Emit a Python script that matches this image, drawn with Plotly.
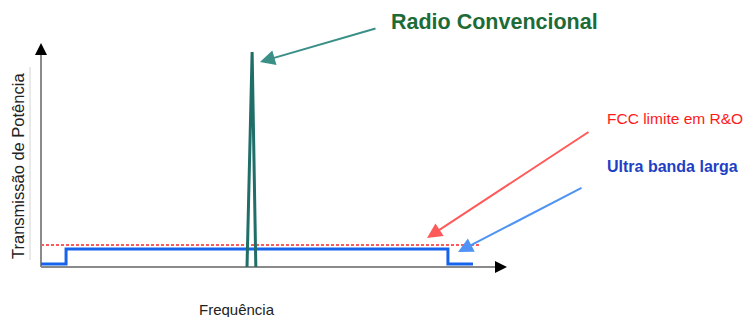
import plotly.graph_objects as go

# ---- data (schematic units: frequency 0..100, power 0..100) ----
uwb_freq = [0, 5.4, 5.4, 87.7, 87.7, 93.1]
uwb_power = [1.3, 1.3, 8.1, 8.1, 1.3, 1.3]
fcc_freq = [0, 94.8]
fcc_power = [9.9, 9.9]
radio_freq = [44.4, 45.5, 46.3]
radio_power = [0, 96.8, 0]

label_radio = "Radio Convencional"
label_fcc = "FCC limite em R&O"
label_uwb = "Ultra banda larga"
x_title = "Frequência"
y_title = "Transmissão de Potência"

# ---- geometry helpers (pixel <-> axis units) ----
W, H = 746, 317
X0, Y0 = 41, 267      # origin of drawn axes, px
SX, SY = 4.64, 2.22   # px per unit


def ux(px):
    return (px - X0) / SX


def uy(py):
    return (Y0 - py) / SY


FONT = "Arial, Liberation Sans, sans-serif"
GREEN_LINE = "#1f6e68"
GREEN_ARROW = "#3a8f87"

fig = go.Figure()

# axis lines
fig.add_trace(go.Scatter(x=[0, 0], y=[0, uy(52)], mode="lines",
                         line=dict(color="#8a8a8a", width=2), hoverinfo="skip"))
fig.add_trace(go.Scatter(x=[0, ux(498)], y=[0, 0], mode="lines",
                         line=dict(color="#8a8a8a", width=2), hoverinfo="skip"))

# FCC limit
fig.add_trace(go.Scatter(x=fcc_freq, y=fcc_power, mode="lines",
                         line=dict(color="#ff5a5a", width=2, dash="3px,2px"),
                         hoverinfo="skip"))
# UWB
fig.add_trace(go.Scatter(x=uwb_freq, y=uwb_power, mode="lines",
                         line=dict(color="#1764ec", width=3), hoverinfo="skip"))
# conventional radio peak
fig.add_trace(go.Scatter(x=radio_freq, y=radio_power, mode="lines",
                         line=dict(color=GREEN_LINE, width=3), hoverinfo="skip"))

shapes = []
# arrowheads of axes
shapes.append(dict(type="path", xref="x", yref="y",
                   path=f"M {ux(41)} {uy(43)} L {ux(35)} {uy(55)} L {ux(47)} {uy(55)} Z",
                   fillcolor="black", line=dict(width=0)))
shapes.append(dict(type="path", xref="x", yref="y",
                   path=f"M {ux(507)} {uy(267)} L {ux(495)} {uy(261)} L {ux(495)} {uy(273)} Z",
                   fillcolor="black", line=dict(width=0)))
# faint guide line next to y title
shapes.append(dict(type="line", xref="x", yref="y",
                   x0=ux(30), x1=ux(30), y0=uy(67), y1=uy(260),
                   line=dict(color="#d4d4d4", width=1)))

annotations = []


def arrow(tip_px, tail_px, color):
    annotations.append(dict(
        x=ux(tip_px[0]), y=uy(tip_px[1]), xref="x", yref="y",
        ax=ux(tail_px[0]), ay=uy(tail_px[1]), axref="x", ayref="y",
        text="", showarrow=True, arrowhead=2, arrowsize=1.5,
        arrowwidth=2, arrowcolor=color))


arrow((260, 62), (377, 28), GREEN_ARROW)
arrow((427, 238), (590, 131), "#ff5a5a")
arrow((458, 252), (583, 187), "#4f94f5")

annotations.append(dict(x=ux(389), y=uy(22), xref="x", yref="y", xanchor="left",
                        yanchor="middle", showarrow=False, text=f"<b>{label_radio}</b>",
                        font=dict(family=FONT, size=21.5, color="#1d6b37")))
annotations.append(dict(x=ux(605), y=uy(118), xref="x", yref="y", xanchor="left",
                        yanchor="middle", showarrow=False, text=label_fcc,
                        font=dict(family=FONT, size=15.5, color="#ff1a1a")))
annotations.append(dict(x=ux(605), y=uy(166), xref="x", yref="y", xanchor="left",
                        yanchor="middle", showarrow=False, text=f"<b>{label_uwb}</b>",
                        font=dict(family=FONT, size=16, color="#1e3fc4")))
annotations.append(dict(x=ux(237), y=uy(309), xref="x", yref="y", xanchor="center",
                        yanchor="middle", showarrow=False, text=x_title,
                        font=dict(family=FONT, size=15, color="#222222")))
annotations.append(dict(x=ux(18), y=uy(166), xref="x", yref="y", xanchor="center",
                        yanchor="middle", showarrow=False, text=y_title, textangle=-90,
                        font=dict(family=FONT, size=16.5, color="#222222")))

fig.update_layout(
    width=W, height=H,
    margin=dict(l=0, r=0, t=0, b=0),
    paper_bgcolor="white", plot_bgcolor="white",
    showlegend=False,
    xaxis=dict(range=[ux(0), ux(W)], visible=False, fixedrange=True),
    yaxis=dict(range=[uy(H), uy(0)], visible=False, fixedrange=True),
    shapes=shapes, annotations=annotations,
)

fig.write_html("out.html", config={"displayModeBar": False},
               post_script="document.body.style.margin='0px';")
